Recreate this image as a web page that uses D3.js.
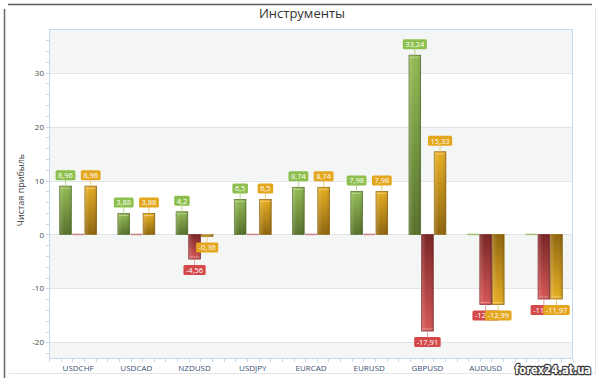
<!DOCTYPE html>
<html><head><meta charset="utf-8">
<script src="https://cdn.jsdelivr.net/npm/d3@7"></script>
<style>body{margin:0;background:#fff}svg{display:block;font-family:"Open Sans",sans-serif}</style>
</head><body>
<svg id="c" width="600" height="381"></svg>
<script>
const categories = ["USDCHF","USDCAD","NZDUSD","USDJPY","EURCAD","EURUSD","GBPUSD","AUDUSD","EURGBP"];
const profitValues = [8.96,3.88,4.2,6.5,8.74,7.98,33.24,0,0];
const lossValues = [0,0,-4.56,0,0,0,-17.91,-12.99,-11.97];
const netValues = [8.96,3.88,-0.36,6.5,8.74,7.98,15.33,-12.99,-11.97];
const yTicks = [-20,-10,0,10,20,30];
const chartTitle = "Инструменты";
const yTitle = "Чистая прибыль";
const watermark = "forex24.at.ua";

const series = [
  {key:"profit", values:profitValues, light:"#93bb52", dark:"#55702a", stroke:"#5b7630", label:"#8dbf4c", conn:"#b8d68e", zero:"#a3bd78"},
  {key:"loss", values:lossValues, light:"#d85656", dark:"#782222", stroke:"#862c2c", label:"#d44a4a", conn:"#e8a0a0", zero:"#c98585"},
  {key:"net", values:netValues, light:"#e8ae20", dark:"#8f650c", stroke:"#976b10", label:"#e4a61c", conn:"#efcc78", zero:"#d8b060"}
];

const svg = d3.select("#c");
const L=49, R=573, T=29, B=359;

// frame
svg.append("line").attr("x1",8).attr("x2",592).attr("y1",4.5).attr("y2",4.5).attr("stroke","#5c5c5c").attr("stroke-width",1.5);
svg.append("line").attr("x1",4.5).attr("x2",4.5).attr("y1",9).attr("y2",378).attr("stroke","#6a6a6a").attr("stroke-width",1.5);
svg.append("line").attr("x1",595.5).attr("x2",595.5).attr("y1",9).attr("y2",373).attr("stroke","#e4e4e4");
svg.append("line").attr("x1",9).attr("x2",595.5).attr("y1",373.5).attr("y2",373.5).attr("stroke","#e4e4e4");

svg.append("text").attr("x",302).attr("y",17.5).attr("text-anchor","middle")
  .attr("font-size",13).attr("fill","#333").text(chartTitle);

const x = d3.scaleBand().domain(categories).range([L,R]).paddingInner(0.35).paddingOuter(0.175);
const xs = d3.scaleBand().domain(series.map(s=>s.key)).range([0,x.bandwidth()]);
const y = d3.scaleLinear().domain([-23.1,38.1]).range([B,T]);

// background bands
svg.append("rect").attr("x",L).attr("y",T).attr("width",R-L).attr("height",B-T).attr("fill","#f4f6f6");
const whiteBands = [[20,30],[0,10],[-20,-10]];
svg.selectAll("rect.band").data(whiteBands).join("rect").attr("class","band")
  .attr("x",L).attr("width",R-L).attr("y",d=>y(d[1])).attr("height",d=>y(d[0])-y(d[1])).attr("fill","#fff");
svg.selectAll("line.grid").data(yTicks).join("line").attr("class","grid")
  .attr("x1",L).attr("x2",R).attr("y1",d=>Math.round(y(d))+0.5).attr("y2",d=>Math.round(y(d))+0.5)
  .attr("stroke","#e2e5e7");
svg.append("rect").attr("x",L+0.5).attr("y",T+0.5).attr("width",R-L-1).attr("height",B-T-1)
  .attr("fill","none").attr("stroke","#c8d8ec");

// y axis
const yAxis = d3.axisLeft(y).tickValues(yTicks).tickSize(0).tickPadding(5).tickFormat(d=>String(d));
const gy = svg.append("g").attr("transform",`translate(${L},0)`).call(yAxis);
gy.select(".domain").remove();
gy.selectAll("text").attr("font-size",8).attr("fill","#4a4a4a").attr("font-family","Open Sans");
const yMinor = d3.range(-22,38,2);
svg.selectAll("line.ym").data(yMinor).join("line").attr("class","ym")
  .attr("x1",L-3).attr("x2",L).attr("y1",d=>Math.round(y(d))+0.5).attr("y2",d=>Math.round(y(d))+0.5)
  .attr("stroke","#c8d8ec");
svg.append("text").attr("transform",`translate(24,${(T+B)/2-4}) rotate(-90)`).attr("text-anchor","middle")
  .attr("font-size",9).attr("fill","#404040").text(yTitle);

// x axis
const xAxis = d3.axisBottom(x).tickSize(0).tickPadding(6);
const gx = svg.append("g").attr("transform",`translate(0,${B})`).call(xAxis);
gx.select(".domain").remove();
gx.selectAll("text").attr("font-size",8).attr("fill","#3c4f72").attr("font-family","Open Sans");
const xMinor = d3.range(0,46).map(i=>L+ i*(R-L)/45);
svg.selectAll("line.xm").data(xMinor).join("line").attr("class","xm")
  .attr("x1",d=>Math.round(d)+0.5).attr("x2",d=>Math.round(d)+0.5).attr("y1",B).attr("y2",B+3)
  .attr("stroke","#c8d8ec");

// gradients
const defs = svg.append("defs");
series.forEach(s=>{
  [["pos",s.light,s.dark],["neg",s.dark,s.light]].forEach(([k,c0,c1])=>{
    const g = defs.append("linearGradient").attr("id",`g-${s.key}-${k}`).attr("x1",0).attr("x2",0).attr("y1",0).attr("y2",1);
    g.append("stop").attr("offset","0%").attr("stop-color",c0);
    g.append("stop").attr("offset","100%").attr("stop-color",c1);
  });
  const h = defs.append("linearGradient").attr("id",`h-${s.key}`).attr("x1",0).attr("x2",1).attr("y1",0).attr("y2",0);
  h.append("stop").attr("offset","0%").attr("stop-color","#fff").attr("stop-opacity",0.18);
  h.append("stop").attr("offset","45%").attr("stop-color","#fff").attr("stop-opacity",0.0);
  h.append("stop").attr("offset","100%").attr("stop-color","#000").attr("stop-opacity",0.12);
});

// bars
const bw = xs.bandwidth();
series.forEach(s=>{
  const g = svg.append("g");
  categories.forEach((c,i)=>{
    const v = s.values[i];
    const bx = x(c)+xs(s.key);
    const y0 = y(0), yv = y(v);
    if (Math.abs(yv-y0) < 1.5) {
      g.append("rect").attr("x",bx+0.5).attr("width",bw-1).attr("y",y0-0.75).attr("height",1.5).attr("fill",s.zero);
      return;
    }
    const top = Math.min(y0,yv), h = Math.abs(yv-y0);
    g.append("rect").attr("x",bx+0.5).attr("width",bw-1).attr("y",top).attr("height",h)
      .attr("fill",`url(#g-${s.key}-${v>=0?"pos":"neg"})`).attr("stroke",s.stroke).attr("stroke-width",0.8);
    g.append("rect").attr("x",bx+0.5).attr("width",bw-1).attr("y",top).attr("height",h)
      .attr("fill",`url(#h-${s.key})`);
    const hy = v>=0 ? yv+2 : yv-2;
    g.append("line").attr("x1",bx+1.5).attr("x2",bx+bw-1.5).attr("y1",hy).attr("y2",hy)
      .attr("stroke","#fff").attr("stroke-opacity",0.35).attr("stroke-width",1);
  });
});

// labels
const fmt = v => String(v).replace(".",",");
series.forEach(s=>{
  const g = svg.append("g");
  categories.forEach((c,i)=>{
    const v = s.values[i];
    if (v===0) return;
    const cx = x(c)+xs(s.key)+bw/2;
    const yv = y(v);
    const cy = v>0 ? yv-11 : yv+11;
    const bh = 10;
    g.append("line").attr("x1",cx).attr("x2",cx).attr("y1",yv).attr("y2",v>0?cy+bh/2:cy-bh/2)
      .attr("stroke",s.conn).attr("stroke-width",1);
    const t = g.append("text").attr("x",cx).attr("y",cy+2.8).attr("text-anchor","middle")
      .attr("font-size",7.5).attr("fill","#fff").text(fmt(v));
    const w = t.node().getComputedTextLength()+5;
    g.insert("rect","text:last-child").attr("x",cx-w/2).attr("y",cy-bh/2).attr("width",w).attr("height",bh)
      .attr("rx",1.5).attr("fill",s.label);
    t.raise();
  });
});

// watermark
svg.append("text").attr("x",553).attr("y",373.5).attr("text-anchor","middle")
  .attr("font-family","DejaVu Sans").attr("font-weight","bold").attr("font-size",12.5)
  .attr("textLength",76).attr("lengthAdjust","spacingAndGlyphs")
  .attr("fill","#fff").attr("stroke","#3a3a3a").attr("stroke-width",2.6)
  .attr("paint-order","stroke").attr("stroke-linejoin","round").text(watermark);
</script>
</body></html>
